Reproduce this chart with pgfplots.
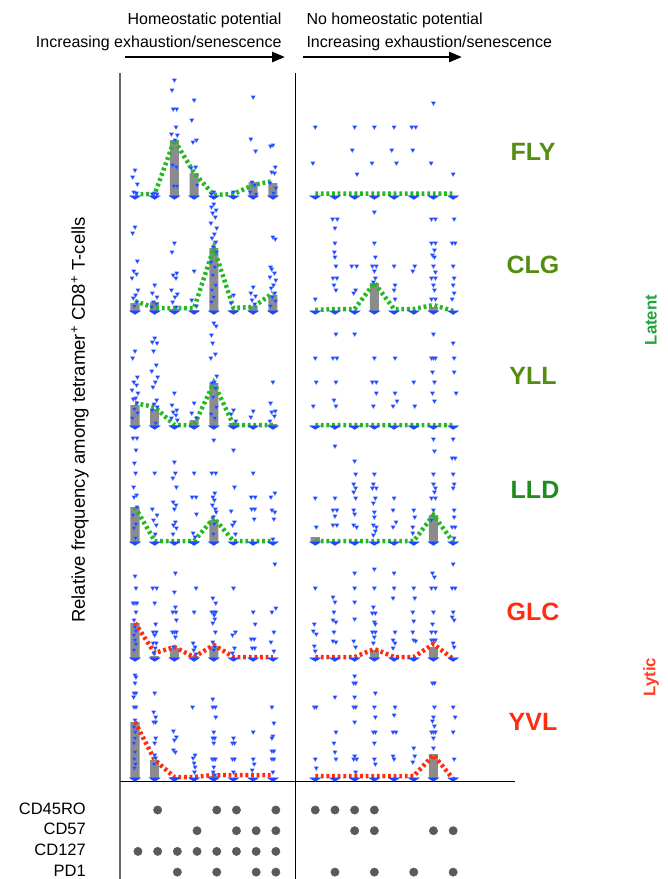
\documentclass[border=0pt]{standalone}
\usepackage{pgfplots}
\pgfplotsset{compat=1.18}
\usepackage{pgfplotstable}
\usepackage{fontspec}
\setmainfont{Liberation Sans}
\usetikzlibrary{arrows.meta}

\definecolor{ptblue}{RGB}{30,70,255}
\definecolor{lgreen}{RGB}{35,185,35}
\definecolor{lred}{RGB}{255,45,15}
\definecolor{barg}{RGB}{140,140,140}
\definecolor{olivegr}{RGB}{85,140,20}
\definecolor{dgreen}{RGB}{30,140,30}
\definecolor{latent}{RGB}{30,165,60}
\definecolor{lytic}{RGB}{255,60,30}
\definecolor{dotg}{RGB}{90,90,90}

\pgfplotsset{
 rowaxis/.style={scale only axis, width=395pt, height=116pt, xmin=0.2386, xmax=20.289,
   ymin=0, ymax=116, axis lines=none, clip=false, anchor=south west, unbounded coords=jump},
 pts/.style={only marks, mark=triangle*, mark size=2.5pt,
   mark options={rotate=180, fill=ptblue, draw=ptblue!70!white, line width=0.3pt}},
 blob/.style={only marks, mark=triangle*, mark size=3pt,
   mark options={rotate=180, xscale=2.1, yscale=0.8, fill=ptblue, draw=ptblue}},
 bars/.style={ybar, bar shift=0pt, bar width=0.46, fill=barg, draw=none},
 dl/.style={line width=4.5pt, dash pattern=on 2.8pt off 2.8pt, mark=none},
}

\pgfplotstableread{
x y
1 0
2 0
3 0
4 0
5 0
6 0
7 0
8 0
10.15 0
11.15 0
12.15 0
13.15 0
14.15 0
15.15 0
16.15 0
17.15 0
}\zeros

% ---------------- FLY ----------------
\pgfplotstableread{
x bar line
1 0 3
2 0 3
3 57 57
4 24 24
5 0 2
6 0 3
7 15 12
8 14 16
9.1 nan nan
10.15 0 3.5
11.15 0 3.5
12.15 0 3.5
13.15 0 3.5
14.15 0 3.5
15.15 0 3.5
16.15 0 3.5
17.15 0 3.5
}\flyB
\pgfplotstableread{
x y
1 27
0.88 20
1.12 13
0.94 5
1.08 4
2 4
1.88 3
2.12 3
3 117
2.88 107
3.12 88
2.94 88
3.08 70
2.85 63
3.15 62
3.03 57
2.91 32
3.1 30
2.97 11
3.13 11
4 97
3.88 77
4.12 57
3.94 55
4.08 30
3.85 29
4.15 12
5 5
4.88 3
6 5
7 100
6.88 58
7.12 46
6.94 15
7.08 12
6.85 5
7.15 3
8 52
7.88 51
8.12 30
7.94 25
8.08 24
7.85 14
8.15 9
8.03 4
10.15 70
10.03 34
12.15 70
12.03 47
12.27 23
13.15 70
13.03 34
14.15 70
14.03 47
14.27 34
15.05 70
15.25 70
15.1 47
16.15 94
16.03 34
17.15 23
}\flyP

% ---------------- CLG ----------------
\pgfplotstableread{
x bar line
1 9 11
2 10 4
3 3 4
4 2 4
5 64 64
6 2 4
7 6 5
8 17 19
9.1 nan nan
10.15 0 2
11.15 0 3
12.15 0 3
13.15 29 29
14.15 0 3
15.15 0 3
16.15 5 7
17.15 0 1
}\clgB
\pgfplotstableread{
x y
1 85
0.88 79
1.12 51
0.94 41
1.08 38
0.85 34
1.15 22
1.03 17
0.91 14
1.1 10
0.97 6
2 27
1.88 19
2.12 15
1.94 10
2.08 8
1.85 5
3 69
2.88 60
3.12 39
2.94 37
3.08 34
2.85 22
3.15 18
3.03 15
2.91 10
3.1 5
4 41
3.88 12
4.12 6
5 108
4.88 105
5.12 102
4.94 99
5.08 95
4.85 89
5.15 84
5.03 78
4.91 74
5.1 70
4.97 65
5.13 60
4.87 50
5.05 45
4.95 37
5.1 27
4.9 22
5 15
4.88 10
6 17
5.88 9
7 25
6.88 19
7.12 16
6.94 12
7.08 8
8 75
8.12 73
7.88 45
7.94 43
8.08 39
7.85 35
8.15 32
8.03 27
7.91 24
8.1 19
7.97 15
8.13 11
7.87 6
10.15 13
11.03 93
11.27 93
11.15 84
11.15 69
11.12 60
11.15 55
11.2 46
11.05 34
11.25 34
11.1 27
11.2 22
12.0 46
12.25 46
12.2 22
12.1 19
13.15 100
13.15 69
13.2 55
13.05 46
13.25 46
13.15 41
13.2 34
13.1 30
14.15 46
14.2 27
14.15 22
14.2 13
15.2 46
15.1 41
16.05 93
16.25 93
16.05 69
16.25 69
16.2 62
16.1 57
16.2 55
16.15 46
16.25 40
16.05 34
16.25 34
16.15 27
16.2 22
16.05 13
16.25 13
17.2 93
17.1 69
17.25 69
17.15 46
17.2 34
17.15 27
17.2 19
17.1 13
}\clgP

% ---------------- YLL ----------------
\pgfplotstableread{
x bar line
1 22 24
2 18 20
3 2 2
4 7 2
5 44 44
6 4 2
7 0 2
8 3 2
9.1 nan nan
10.15 0 2
11.15 0 2
12.15 0 2
13.15 0 2
14.15 0 2
15.15 0 2
16.15 0 2
17.15 0 2
}\yllB
\pgfplotstableread{
x y
1 76
0.88 69
1.12 50
0.94 45
1.08 42
0.85 37
1.15 34
1.03 29
0.91 28
1.1 24
0.97 18
1.13 14
0.87 9
2 89
1.88 85
2.12 84
1.94 76
2.08 62
1.85 56
2.15 50
2.03 45
1.91 40
2.1 27
1.97 23
2.13 20
1.87 17
2.05 4
3 34
2.88 22
3.12 17
2.94 15
3.08 12
2.85 9
3.15 7
4 24
3.88 14
4.12 9
5 104
5.12 101
4.88 92
4.94 84
5.08 73
4.85 69
5.15 51
5.03 45
4.91 44
5.1 39
4.97 30
5.13 20
4.87 13
5.05 9
6 17
5.88 13
6.12 6
7 16
6.88 10
8 45
7.88 24
8.12 16
7.94 15
8.08 11
7.85 6
10.15 69
10.2 45
10.05 21
11.2 93
11.05 69
11.25 69
11.2 45
11.1 27
11.2 21
12.15 93
13.15 69
13.05 45
13.25 45
13.25 34
13.1 21
14.2 69
14.2 34
14.3 26
14.1 21
15.15 45
15.2 21
16.15 93
16.05 69
16.15 69
16.25 69
16.1 55
16.2 45
16.1 34
16.2 26
17.15 84
17.2 69
17.2 55
17.3 34
}\yllP

% ---------------- LLD ----------------
\pgfplotstableread{
x bar line
1 36 36
2 0 2
3 0 2
4 2 2
5 23 25
6 0 2
7 0 2
8 0 2
9.1 nan nan
10.15 6 2
11.15 0 2
12.15 0 2
13.15 0 2
14.15 0 2
15.15 0 2
16.15 28 28
17.15 0 1
}\lldB
\pgfplotstableread{
x y
0.9 105
1.1 105
1.05 93
0.97 80
1.03 70
0.93 56
1.08 48
0.95 46
1.1 36
0.9 28
1.05 19
0.95 15
1.03 5
2 70
1.88 34
2.12 28
1.94 23
2.08 18
2.03 9
3 81
3.05 70
2.92 65
3.1 56
2.94 41
3.08 38
3.0 34
3.05 21
2.95 18
3.1 15
2.93 9
4 70
3.9 46
4.1 46
4.12 29
3.95 10
4.05 6
5 103
4.9 70
5.1 70
5.05 50
4.95 46
5.03 43
4.93 38
5.08 34
5.12 31
4.97 26
5.02 19
4.98 9
6 93
6.05 56
5.88 32
6.05 21
5.95 18
6.1 9
7 70
6.9 46
7.1 46
6.92 34
7.08 34
7.05 24
8.1 50
7.9 46
7.95 33
8.1 31
8.05 24
8 4
10.15 45
10.2 16
11.15 97
11.15 45
11.05 33
11.25 33
11.15 27
11.05 18
11.25 18
12.15 82
12.2 69
12.1 59
12.2 55
12.1 51
12.2 45
12.1 33
12.15 29
12.1 18
12.25 16
13.15 69
13.1 59
13.05 55
13.25 55
13.2 45
13.1 40
13.15 31
13.15 26
13.1 18
13.25 16
13.2 12
13.1 8
14.15 45
14.1 33
14.25 21
14.1 16
15.15 33
15.2 26
15.1 16
15.1 10
16.15 104
16.2 92
16.15 69
16.15 59
16.25 55
16.2 51
16.05 45
16.25 45
16.15 33
16.05 23
17.15 104
17.1 85
17.25 85
17.15 69
17.2 59
17.15 55
17.2 33
17.2 26
17.1 16
17.25 16
17.2 5
}\lldP

% ---------------- GLC ----------------
\pgfplotstableread{
x bar line
1 36 36
2 3 6
3 11 12
4 3 2
5 13 14
6 0 2
7 0 2
8 0 2
9.1 nan nan
10.15 0 2
11.15 0 2
12.15 0 2
13.15 9 10
14.15 0 2
15.15 0 2
16.15 12 15
17.15 0 0
}\glcB
\pgfplotstableread{
x y
1 83
1.05 71
0.9 56
1.0 56
1.1 56
1.05 47
0.95 39
1.0 32
1.05 28
0.95 24
1.0 19
1.05 15
0.95 9
1.9 71
2.1 71
2 56
2.05 35
1.92 27
2.08 27
2.0 24
1.92 16
2.08 16
2.03 11
1.97 6
3.05 86
3 67
3.05 52
2.92 47
3.08 47
3.1 39
2.9 27
3 27
3.1 27
3.05 22
2.95 12
4.1 71
4 47
3.95 16
4.05 12
3.98 9
4.1 5
4.95 61
5.1 56
4.9 47
5 47
5.1 47
5.02 44
5.05 40
4.95 36
5.08 27
4.95 17
5.05 12
5 9
6 71
6.1 27
5.95 24
6.05 11
5.95 6
7 47
7.1 35
6.9 20
7.05 20
6.95 11
7.08 11
8.1 95
8.15 51
7.95 47
8.05 27
7.9 17
8.05 8
10.15 71
10.1 35
10.05 28
10.2 25
10.1 13
10.15 8
11.05 62
11.15 57
11.1 47
11.05 39
11.2 37
11.1 27
11.05 18
11.2 17
12.15 86
12.15 71
12.15 57
12.15 40
12.1 18
12.2 12
13.15 90
13.15 71
13.1 52
13.05 46
13.2 46
13.15 37
13.2 35
13.05 27
13.2 27
13.15 22
13.1 16
14.15 86
14.15 71
14.1 61
14.2 27
14.1 19
14.2 16
14.1 11
15.15 71
15.2 61
15.1 47
15.15 38
15.1 27
15.15 19
15.25 18
16.1 86
16.2 82
16.05 71
16.25 71
16.15 47
16.1 35
16.05 27
16.25 27
16.05 19
16.15 19
16.25 19
17.15 95
17.1 71
17.25 71
17.15 47
17.1 42
17.2 39
17.15 16
17.2 12
}\glcP

% ---------------- YVL ----------------
\pgfplotstableread{
x bar line
1 57 57
2 19 19
3 2 2
4 0 2
5 3 4
6 0 4
7 0 4
8 0 4
9.1 nan nan
10.15 0 3
11.15 0 3
12.15 0 3
13.15 0 3
14.15 0 3
15.15 0 3
16.15 25 24
17.15 0 0
}\yvlB
\pgfplotstableread{
x y
1 104
1.05 102
1 96
0.95 86
1.05 86
0.93 82
0.95 72
1.05 72
1.0 59
0.95 52
1.02 47
1.0 41
0.95 36
1.0 27
0.97 20
1.02 15
0.97 11
2 86
1.95 67
2.05 62
1.95 57
2.05 57
2.05 41
2 36
2 24
2.05 21
1.97 15
2.95 48
3.1 42
3.0 39
2.95 29
3.05 27
3.92 72
4.05 24
3.95 21
4 16
4.05 12
4.02 7
4.95 80
4.95 72
5.08 72
5.1 62
5 47
4.95 41
5.05 41
5 36
4.92 20
5 20
5.08 20
5 12
4.97 7
5.05 4
6 41
5.95 36
6.05 36
5.95 20
6.05 20
6 7
7 47
7 20
7.05 15
6.95 9
7.95 72
8.05 56
8 43
7.95 41
7.95 28
8.05 28
7.95 20
8.05 20
8 7
10.1 72
10.2 72
10.15 20
10.2 11
11.15 82
11.2 47
11.1 36
11.15 27
11.2 20
12.15 103
12.1 96
12.2 96
12.15 82
12.1 72
12.2 72
12.15 57
12.15 23
12.1 20
12.25 20
12.2 7
13.2 86
13.15 72
13.2 62
13.1 47
13.2 47
13.15 36
13.15 20
13.2 15
14.2 72
14.15 64
14.1 47
14.25 47
14.1 23
14.15 20
15.15 31
15.2 23
15.1 17
16.1 96
16.2 96
16.2 72
16.15 62
16.1 58
16.2 53
16.05 47
16.15 47
16.25 47
16.15 41
16.15 31
17.15 72
17.25 62
17.15 47
17.2 20
}\yvlP

% ---------------- marker matrix ----------------
\pgfplotstableread{
x y
2.15 4
5.15 4
6.15 4
8.15 4
10.15 4
11.15 4
12.15 4
13.15 4
4.15 3
6.15 3
7.15 3
8.15 3
12.15 3
13.15 3
16.15 3
17.15 3
1.15 2
2.15 2
3.15 2
4.15 2
5.15 2
6.15 2
7.15 2
8.15 2
3.15 1
5.15 1
7.15 1
8.15 1
11.15 1
13.15 1
15.15 1
17.15 1
}\markers

\newcommand{\datarow}[4]{%
\begin{axis}[rowaxis, at={(120pt,-#1pt)}]
\addplot[bars] table[x=x,y=bar]{#2};
\addplot[dl, #4] table[x=x,y=line]{#2};
\addplot[pts] table[x=x,y=y]{#3};
\addplot[blob] table[x=x,y=y]{\zeros};
\end{axis}}

\begin{document}
\begin{tikzpicture}
\path[use as bounding box] (0pt,0pt) rectangle (668pt,-879pt);

% frame lines
\draw[line width=1.4pt, black!60] (120pt,-73pt) -- (120pt,-879pt);
\draw[line width=1pt, black] (295pt,-73pt) -- (295pt,-879pt);
\draw[line width=1pt, black] (120pt,-781pt) -- (515pt,-781pt);

% data rows
\datarow{197}{\flyB}{\flyP}{lgreen}
\datarow{312}{\clgB}{\clgP}{lgreen}
\datarow{427}{\yllB}{\yllP}{lgreen}
\datarow{543}{\lldB}{\lldP}{lgreen}
\datarow{659}{\glcB}{\glcP}{lred}
\datarow{779}{\yvlB}{\yvlP}{lred}

% marker matrix
\begin{axis}[scale only axis, width=395pt, height=89pt, at={(120pt,-879pt)}, anchor=south west,
  xmin=0.2386, xmax=20.289, ymin=0.667, ymax=4.966, clip=false,
  axis line style={draw=none}, xtick=\empty, ytick={1,2,3,4},
  yticklabels={PD1,CD127,CD57,CD45RO}, major tick length=0pt,
  yticklabel style={font=\fontsize{16.5pt}{20pt}\selectfont, inner sep=0pt, anchor=east, xshift=-34pt, yshift=1.5pt}]
\addplot[only marks, mark=*, mark size=4.2pt, dotg] table[x=x,y=y]{\markers};
\end{axis}

% header
\node[anchor=base east, font=\fontsize{16pt}{20pt}\selectfont] at (285pt,-24pt) {Homeostatic potential};
\node[anchor=base east, font=\fontsize{16pt}{20pt}\selectfont] at (285pt,-47pt) {Increasing exhaustion/senescence};
\node[anchor=base west, font=\fontsize{16pt}{20pt}\selectfont] at (303pt,-24pt) {No homeostatic potential};
\node[anchor=base west, font=\fontsize{16pt}{20pt}\selectfont] at (303pt,-47pt) {Increasing exhaustion/senescence};
\draw[line width=2.5pt, -{Triangle[length=13pt,width=10pt]}] (125pt,-57pt) -- (285pt,-57pt);
\draw[line width=2.5pt, -{Triangle[length=13pt,width=10pt]}] (303pt,-57pt) -- (462pt,-57pt);

% y label
\node[rotate=90, font=\fontsize{18.5pt}{22pt}\selectfont] at (80pt,-420pt)
  {Relative frequency among tetramer\textsuperscript{+} CD8\textsuperscript{+} T-cells};

% epitope labels
\node[font=\fontsize{25pt}{30pt}\selectfont\bfseries, text=olivegr] at (533pt,-152pt) {FLY};
\node[font=\fontsize{25pt}{30pt}\selectfont\bfseries, text=olivegr] at (533pt,-265pt) {CLG};
\node[font=\fontsize{25pt}{30pt}\selectfont\bfseries, text=olivegr] at (533pt,-376pt) {YLL};
\node[font=\fontsize{25pt}{30pt}\selectfont\bfseries, text=dgreen] at (535pt,-490pt) {LLD};
\node[font=\fontsize{25pt}{30pt}\selectfont\bfseries, text=lred] at (533pt,-612pt) {GLC};
\node[font=\fontsize{25pt}{30pt}\selectfont\bfseries, text=lred] at (533pt,-722pt) {YVL};
\node[rotate=90, font=\fontsize{16.7pt}{20pt}\selectfont\bfseries, text=latent] at (651pt,-320pt) {Latent};
\node[rotate=90, font=\fontsize{16.7pt}{20pt}\selectfont\bfseries, text=lytic] at (651pt,-677pt) {Lytic};
\end{tikzpicture}
\end{document}
